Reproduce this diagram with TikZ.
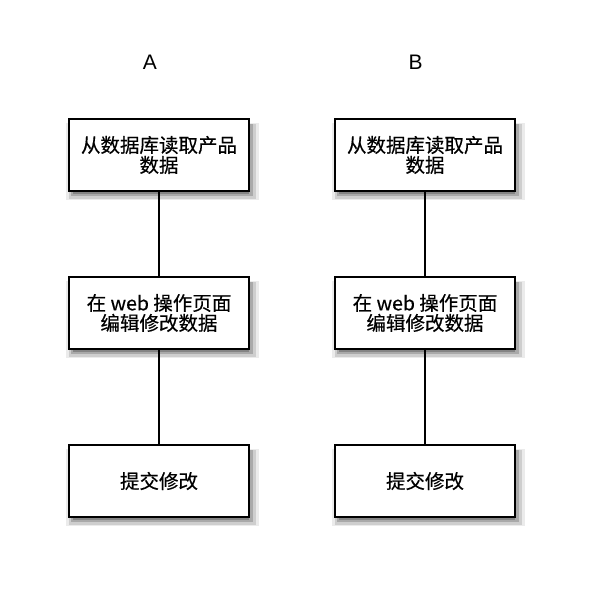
\documentclass[tikz,border=0pt]{standalone}
\usepackage{fontspec}
\setmainfont{Liberation Sans}
\newfontfamily\cjk[FakeBold=0.4]{Noto Sans CJK SC}
\usetikzlibrary{shadows}
\tikzset{
  softshadow/.style={
    general shadow={shadow xshift=3pt, shadow yshift=-6pt, fill=black, opacity=0.08, shadow scale=1.07},
    general shadow={shadow xshift=3pt, shadow yshift=-6pt, fill=black, opacity=0.12, shadow scale=1.04},
    general shadow={shadow xshift=3pt, shadow yshift=-5pt, fill=black, opacity=0.18, shadow scale=1.01},
    general shadow={shadow xshift=2pt, shadow yshift=-4pt, fill=black, opacity=0.22, shadow scale=0.98}
  },
  stepbox/.style={draw=black, line width=1.6pt, fill=white, minimum width=180pt, minimum height=72pt,
    inner sep=0pt, align=center, font=\cjk\fontsize{19.5}{20}\selectfont, softshadow},
  link/.style={draw=black, line width=1.6pt},
  collabel/.style={font=\fontsize{21}{24}\selectfont}
}
\begin{document}
\begin{tikzpicture}[x=1pt,y=-1pt]
\useasboundingbox (0,0) rectangle (594,600);
\node[collabel] (la) at (150,62) {A};
\node[collabel] (lb) at (415.5,62) {B};
\node[stepbox] (a1) at (159,155) {从数据库读取产品\\数据};
\node[stepbox] (a2) at (159,313) {在 web 操作页面\\编辑修改数据};
\node[stepbox] (a3) at (159,481) {提交修改};
\node[stepbox] (b1) at (425,155) {从数据库读取产品\\数据};
\node[stepbox] (b2) at (425,313) {在 web 操作页面\\编辑修改数据};
\node[stepbox] (b3) at (425,481) {提交修改};
\draw[link] (a1) -- (a2);
\draw[link] (a2) -- (a3);
\draw[link] (b1) -- (b2);
\draw[link] (b2) -- (b3);
\end{tikzpicture}
\end{document}
